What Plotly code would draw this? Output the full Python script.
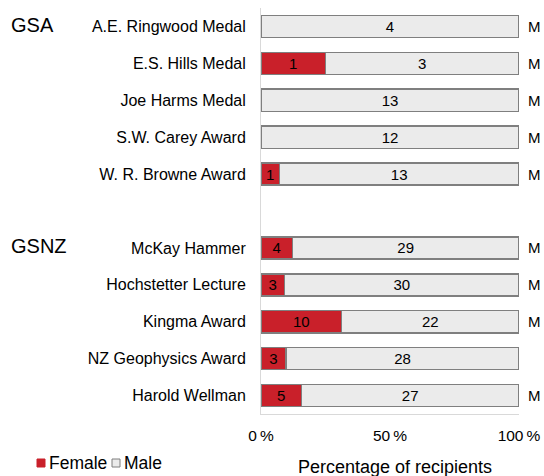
import plotly.graph_objects as go

awards = ["A.E. Ringwood Medal", "E.S. Hills Medal", "Joe Harms Medal", "S.W. Carey Award",
          "W. R. Browne Award", "", "McKay Hammer", "Hochstetter Lecture", "Kingma Award",
          "NZ Geophysics Award", "Harold Wellman"]
female = [0, 1, 0, 0, 1, None, 4, 3, 10, 3, 5]
male = [4, 3, 13, 12, 13, None, 29, 30, 22, 28, 27]
medal_flag = ["M", "M", "M", "M", "M", "", "M", "M", "M", "", "M"]
groups = [("GSA", 0), ("GSNZ", 6)]
x_ticks = [0, 50, 100]
x_ticklabels = ["0\u2009%", "50\u2009%", "100\u2009%"]
series_names = ["Female", "Male"]

rows = [i for i, a in enumerate(awards) if a]
f_pct = [female[i] / (female[i] + male[i]) * 100 for i in rows]
m_pct = [male[i] / (female[i] + male[i]) * 100 for i in rows]
f_txt = [str(female[i]) if female[i] else "" for i in rows]
m_txt = [str(male[i]) if male[i] else "" for i in rows]

FONT = "Arial, Liberation Sans, sans-serif"
RED = "#C9202A"
GRAY = "#EBEBEB"
EDGE = "#7F7F7F"

# plot area geometry in pixels (for paper-coordinate conversions)
L, R, T, B = 261, 519, 8, 414
W, H = 544, 476


def px(x):
    return (x - L) / (R - L)


def py(y):
    return (B - y) / (B - T)


fig = go.Figure()
for name, vals, txt, col in [(series_names[0], f_pct, f_txt, RED), (series_names[1], m_pct, m_txt, GRAY)]:
    fig.add_trace(go.Bar(
        y=rows, x=vals, orientation="h", name=name, width=0.6,
        marker=dict(color=col, line=dict(color=EDGE, width=1.5)),
        text=txt, textposition="inside", insidetextanchor="middle", textangle=0,
        constraintext="none",
        textfont=dict(color="black", size=15, family=FONT), hoverinfo="skip",
        showlegend=False))

annotations = []
for i in rows:
    if medal_flag[i]:
        annotations.append(dict(x=px(534), xref="paper", y=i, yref="y", text=medal_flag[i],
                                showarrow=False, xanchor="center", yanchor="middle",
                                font=dict(size=15, family=FONT, color="black")))
for g, r in groups:
    annotations.append(dict(x=px(9), xref="paper", y=r - 0.05, yref="y", text=g,
                            showarrow=False, xanchor="left", yanchor="middle",
                            font=dict(size=20, family=FONT, color="black")))
annotations.append(dict(x=px(395), xref="paper", y=py(467), yref="paper",
                        text="Percentage of recipients",
                        showarrow=False, xanchor="center", yanchor="middle",
                        font=dict(size=18, family=FONT, color="black")))

# legend drawn as squares + labels
shapes = []
leg = [(series_names[0], RED, RED, 37, 47), (series_names[1], GRAY, EDGE, 112, 122)]
for name, fill, edge, sx, tx in leg:
    shapes.append(dict(type="rect", xref="paper", yref="paper",
                       x0=px(sx), x1=px(sx + 8), y0=py(467), y1=py(459),
                       fillcolor=fill, line=dict(color=edge, width=1)))
    annotations.append(dict(x=px(tx), xref="paper", y=py(463), yref="paper", text=name,
                            showarrow=False, xanchor="left", yanchor="middle",
                            font=dict(size=17.5, family=FONT, color="black")))

fig.update_layout(
    width=W, height=H,
    margin=dict(l=L, r=W - R, t=T, b=H - B, autoexpand=False),
    barmode="stack",
    plot_bgcolor="white", paper_bgcolor="white",
    font=dict(family=FONT, color="black"),
    showlegend=False,
    annotations=annotations,
    shapes=shapes,
)
fig.update_xaxes(range=[0, 100], tickvals=x_ticks, ticktext=x_ticklabels,
                 showgrid=False, zeroline=False, showline=True, linecolor="#D9D9D9", linewidth=1,
                 ticks="outside", ticklen=7, tickcolor="rgba(0,0,0,0)",
                 tickfont=dict(size=15.5, family=FONT, color="black"), fixedrange=True)
fig.update_yaxes(range=[10.5, -0.5], tickvals=rows, ticktext=[awards[i] for i in rows],
                 showgrid=False, zeroline=False, showline=True, linecolor="#D9D9D9", linewidth=1,
                 ticks="outside", ticklen=11, tickcolor="rgba(0,0,0,0)",
                 tickfont=dict(size=16, family=FONT, color="black"), fixedrange=True)

fig.write_html("out.html", config={"displayModeBar": False},
               post_script="document.body.style.margin='0';document.body.style.overflow='hidden';")
